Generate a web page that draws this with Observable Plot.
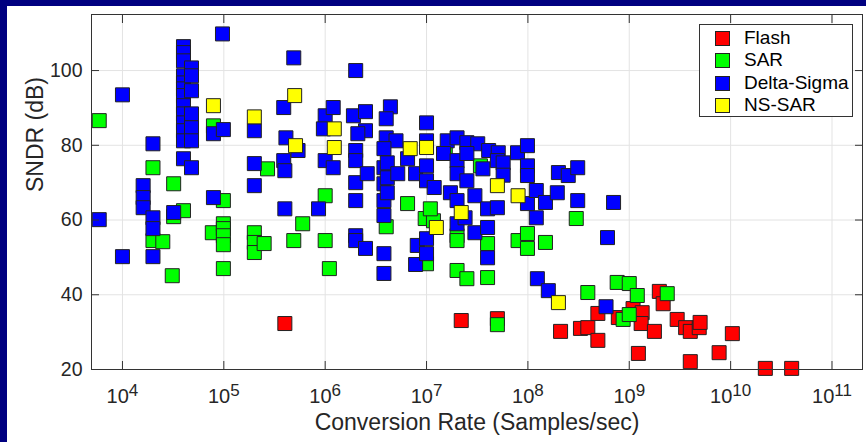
<!DOCTYPE html>
<html><head><meta charset="utf-8">
<script src="https://cdn.jsdelivr.net/npm/d3@7"></script>
<script src="https://cdn.jsdelivr.net/npm/@observablehq/plot@0.6"></script>
<style>
html,body{margin:0;padding:0;background:#000080;width:866px;height:442px;overflow:hidden;}
#panel{position:absolute;left:7px;top:6px;width:859px;height:436px;background:#fff;}
#legend{position:absolute;left:692px;top:18px;width:152px;height:91px;border:1px solid #333;background:#fff;font-family:"Liberation Sans",Arial,sans-serif;font-size:19px;color:#000;}
.row{position:absolute;left:0;height:22px;line-height:22px;white-space:nowrap;}
.sw{position:absolute;left:15px;top:4px;width:13px;height:13px;border:1px solid #222;}
.lab{position:absolute;left:44px;top:0;}
</style>
</head><body>
<div id="panel"><div id="chart"></div><div id="legend"></div></div>
<script>
const xTicks = [1e4,1e5,1e6,1e7,1e8,1e9,1e10,1e11];
const yTicks = [20,40,60,80,100];
const seriesNames = ["Flash","SAR","Delta-Sigma","NS-SAR"];
const seriesColors = ["#ff0000","#00ff00","#0000ff","#ffff00"];

const flashRate = [4.0e5,2.2e7,5.0e7,2.1e8,3.3e8,3.9e8,4.9e8,4.9e8,7.8e8,1.09e9,1.34e9,1.31e9,1.77e9,1.23e9,1.98e9,2.16e9,2.97e9,3.6e9,4.0e9,4.9e9,5.0e9,4.0e9,7.7e9,1.04e10,2.2e10,4.0e10];
const flashSndr = [32.3,33.1,33.6,30.2,31.0,31.2,35.0,27.8,33.9,36.3,35.2,32.3,30.2,24.3,40.9,37.6,33.4,31.2,30.2,31.2,32.6,22.1,24.5,29.6,20.3,20.3];

const sarRate = [5.9e3,2.0e4,2.0e4,2.5e4,3.2e4,3.2e4,4.0e4,3.1e4,7.9e4,9.9e4,7.7e4,9.9e4,9.9e4,9.9e4,9.9e4,9.9e4,2.7e5,2.0e5,2.0e5,2.0e5,2.5e5,4.9e5,6.0e5,1.0e6,1.0e6,1.1e6,4.0e6,6.5e6,9.7e6,1.17e7,1.09e7,1.0e7,1.53e7,2.0e7,2.0e7,2.0e7,2.5e7,3.4e7,4.0e7,4.0e7,5.0e7,8.0e7,9.9e7,9.9e7,1.49e8,3.0e8,3.9e8,7.6e8,1.0e9,1.2e9,2.37e9,8.7e8,1.0e9];
const sarSndr = [86.6,74.0,54.5,54.2,69.7,60.9,62.5,45.1,85.2,65.2,56.6,59.0,57.7,55.8,53.4,47.0,73.7,56.6,54.0,51.3,53.7,54.5,59.0,66.5,54.5,47.0,58.2,64.4,60.4,59.8,63.0,48.3,77.8,55.8,54.5,46.5,44.3,74.5,53.7,44.6,32.0,54.5,56.4,52.4,54.0,60.4,40.6,43.3,43.0,39.8,40.3,33.4,34.7];

const deltaRate = [5.9e3,1.0e4,1.0e4,2.0e4,1.6e4,1.6e4,1.6e4,2.0e4,2.0e4,2.0e4,3.2e4,
4.0e4,4.0e4,4.0e4,4.0e4,4.0e4,4.0e4,4.0e4,4.0e4,4.0e4,4.0e4,4.0e4,4.0e4,4.0e4,
4.8e4,4.8e4,4.8e4,4.8e4,4.8e4,4.8e4,4.8e4,
7.9e4,9.9e4,9.7e4,7.9e4,2.0e5,2.0e5,2.0e5,3.9e5,4.1e5,3.9e5,4.0e5,4.0e5,4.9e5,5.4e5,8.6e5,
1.0e6,9.6e5,1.2e6,1.0e6,1.2e6,2.0e6,1.9e6,2.5e6,2.5e6,2.1e6,2.0e6,2.0e6,2.0e6,2.0e6,2.0e6,2.0e6,2.5e6,
4.4e6,4.0e6,4.0e6,5.0e6,3.8e6,3.8e6,3.8e6,3.8e6,3.8e6,3.8e6,3.8e6,4.1e6,4.1e6,4.1e6,
5.2e6,6.5e6,7.8e6,8.1e6,7.8e6,1.0e7,1.0e7,1.0e7,1.0e7,1.19e7,1.0e7,1.0e7,
1.6e7,2.0e7,2.5e7,3.2e7,4.1e7,5.1e7,7.9e7,9.9e7,1.47e7,1.72e7,2.0e7,2.0e7,2.0e7,2.0e7,
2.5e7,2.5e7,2.4e7,3.0e7,3.0e7,3.6e7,4.0e7,4.0e7,4.0e7,5.0e7,5.0e7,5.7e7,
9.9e7,9.9e7,9.9e7,1.21e8,1.21e8,1.49e8,1.95e8,2.0e8,2.5e8,3.1e8,3.1e8,1.24e8,1.59e8,6.1e8,7.0e8,5.9e8,2.6e6,5.7e7];
const deltaSndr = [60.1,93.5,50.2,80.4,69.2,66.0,63.3,60.6,57.7,50.2,62.0,
106.4,104.8,102.6,98.6,96.7,95.1,93.3,90.6,88.4,86.0,83.9,81.2,76.4,
100.7,98.6,94.6,88.4,84.7,81.2,74.0,
83.1,84.2,109.8,66.0,83.9,75.1,69.2,90.1,82.0,75.9,73.2,63.0,103.4,78.6,63.0,
87.9,84.4,90.1,75.9,74.0,100.0,87.9,89.0,83.9,83.1,78.6,75.9,70.0,65.2,55.8,54.5,52.4,
90.3,87.1,82.0,81.2,79.1,74.0,69.7,65.2,61.2,51.0,45.7,75.3,71.3,67.3,
72.4,76.4,72.4,53.2,48.1,86.0,81.2,74.5,70.5,68.7,55.0,51.0,
81.2,82.0,80.7,80.4,78.6,78.0,78.0,79.9,77.8,67.3,75.9,72.4,65.2,59.0,
77.8,70.5,60.6,56.6,66.5,73.7,63.0,58.0,49.9,75.9,63.3,75.3,
74.5,71.9,64.4,67.9,60.6,64.7,67.3,72.7,71.9,74.0,65.2,44.3,41.1,55.3,64.7,36.8,72.4,72.0];

const nsRate = [7.9e4,2.0e5,5.0e5,5.1e5,1.23e6,1.23e6,6.9e6,1.0e7,1.25e7,2.2e7,5.0e7,8.0e7,2.0e8];
const nsSndr = [90.6,87.6,93.3,79.9,84.4,79.4,79.1,79.4,58.0,62.0,69.2,66.5,37.9];

const seriesRates = [flashRate, sarRate, deltaRate, nsRate];
const seriesSndr = [flashSndr, sarSndr, deltaSndr, nsSndr];
const points = seriesNames.flatMap((name, k) =>
  seriesRates[k].map((r, i) => ({type: name, rate: r, sndr: seriesSndr[k][i]})));

const font = '"Liberation Sans", Arial, sans-serif';
const ink = "#262626";
const chart = Plot.plot({
  width: 859, height: 436,
  marginLeft: 84, marginRight: 4, marginTop: 8, marginBottom: 73,
  style: {background: "#fff", fontFamily: font, color: ink, overflow: "visible"},
  x: {type: "log", domain: [4.95e3, 2e11]},
  y: {domain: [20, 115]},
  color: {domain: seriesNames, range: seriesColors},
  marks: [
    Plot.gridX(xTicks, {stroke: "#e3e3e3", strokeOpacity: 1}),
    Plot.gridY(yTicks, {stroke: "#e3e3e3", strokeOpacity: 1}),
    Plot.dot(points, {x: "rate", y: "sndr", fill: "type", symbol: "square", r: 7.9, stroke: "#222", strokeWidth: 1}),
    Plot.frame({stroke: "#333"}),
    Plot.axisX(xTicks, {anchor: "bottom", tickSize: -8, fill: "none", label: null, stroke: "#333"}),
    Plot.axisX(xTicks, {anchor: "top", tickSize: -8, fill: "none", label: null, stroke: "#333"}),
    Plot.axisY(yTicks, {anchor: "left", tickSize: -8, fill: "none", label: null, stroke: "#333"}),
    Plot.axisY(yTicks, {anchor: "right", tickSize: -8, fill: "none", label: null, stroke: "#333"}),
    Plot.text(xTicks, {x: d => d, frameAnchor: "bottom", lineAnchor: "bottom", dy: 33, text: d => "10^" + Math.round(Math.log10(d)), fontSize: 20, fill: ink}),
    Plot.text(yTicks, {y: d => d, frameAnchor: "left", textAnchor: "end", dx: -9, text: d => String(d), fontSize: 19.5, fill: ink}),
    Plot.text(["Conversion Rate (Samples/sec)"], {frameAnchor: "bottom", lineAnchor: "bottom", dy: 60, text: d => d, fontSize: 23, fill: ink}),
    Plot.text(["SNDR (dB)"], {frameAnchor: "left", rotate: -90, lineAnchor: "bottom", dx: -49, text: d => d, fontSize: 23, fill: ink})
  ]
});
chart.querySelectorAll("text").forEach(t => {
  const m = /^10\^(-?\d+)$/.exec(t.textContent);
  if (m) {
    t.textContent = "10";
    const ts = document.createElementNS("http://www.w3.org/2000/svg", "tspan");
    ts.setAttribute("dy", "-0.4em");
    ts.setAttribute("font-size", "0.85em");
    ts.textContent = m[1];
    t.appendChild(ts);
  }
});
document.getElementById("chart").appendChild(chart);

const legend = document.getElementById("legend");
seriesNames.forEach((name, i) => {
  const row = document.createElement("div");
  row.className = "row";
  row.style.top = (2 + i * 22.3) + "px";
  row.style.width = "100%";
  const sw = document.createElement("span");
  sw.className = "sw";
  sw.style.background = seriesColors[i];
  const lab = document.createElement("span");
  lab.className = "lab";
  lab.textContent = name;
  row.appendChild(sw); row.appendChild(lab);
  legend.appendChild(row);
});
</script>
</body></html>
